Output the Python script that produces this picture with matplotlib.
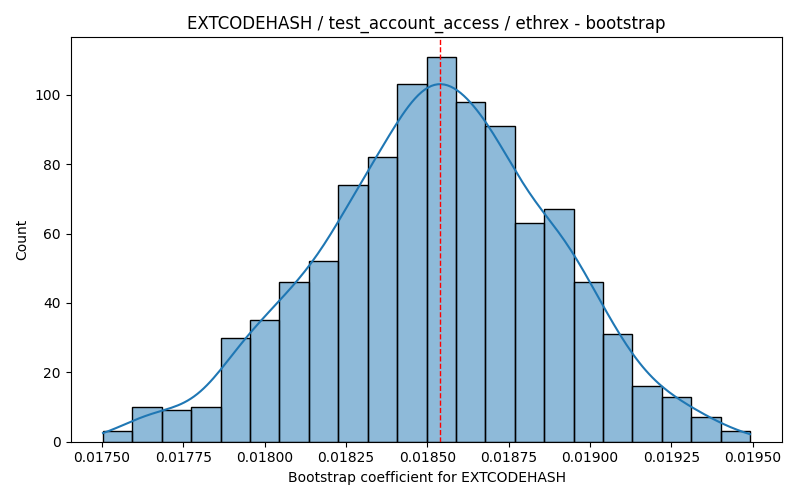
import matplotlib
matplotlib.use("Agg")
import matplotlib.pyplot as plt
from matplotlib.colors import to_rgba
import numpy as np

# histogram (22 equal bins)
bin_lo = 0.017503
bin_hi = 0.019492
counts = [3, 10, 9, 10, 30, 35, 46, 52, 74, 82, 103,
          111, 98, 91, 63, 67, 46, 31, 16, 13, 7, 3]
point_estimate = 0.018539

title = "EXTCODEHASH / test_account_access / ethrex - bootstrap"
xlabel = "Bootstrap coefficient for EXTCODEHASH"

if __name__ == "__main__":
    counts = np.array(counts)
    edges = np.linspace(bin_lo, bin_hi, len(counts) + 1)
    centers = (edges[:-1] + edges[1:]) / 2
    width = edges[1] - edges[0]

    fig, ax = plt.subplots(figsize=(8, 5), dpi=100)
    ax.bar(edges[:-1], counts, width=width, align="edge",
           facecolor=to_rgba("C0", 0.5), edgecolor="black", linewidth=1)

    # gaussian kde (scott bandwidth) of the binned samples, scaled to counts
    samples = np.repeat(centers, counts)
    n = len(samples)
    bw = samples.std(ddof=1) * n ** (-1 / 5)
    grid = np.linspace(bin_lo, bin_hi, 200)
    dens = np.exp(-0.5 * ((grid[:, None] - samples[None, :]) / bw) ** 2).sum(axis=1)
    dens = dens / (n * bw * np.sqrt(2 * np.pi))
    ax.plot(grid, dens * n * width, color="C0", linewidth=1.5)

    ax.axvline(point_estimate, color="red", linestyle="--", linewidth=1)
    ax.set_title(title)
    ax.set_xlabel(xlabel)
    ax.set_ylabel("Count")
    plt.tight_layout()
    plt.savefig("out.png")
